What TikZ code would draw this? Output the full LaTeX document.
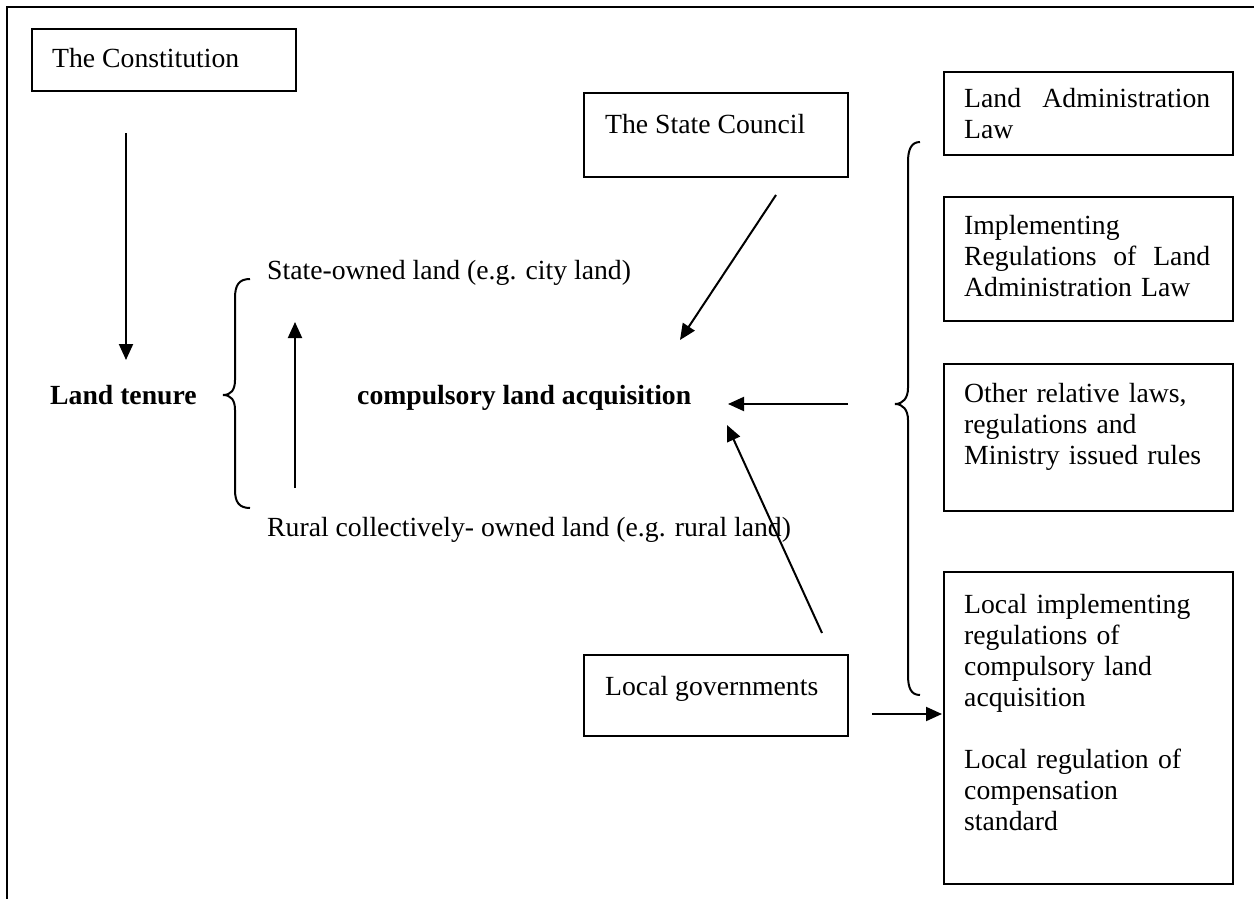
\documentclass[tikz,border=0pt]{standalone}
\usepackage{fontspec}
\setmainfont{Liberation Serif}
\usetikzlibrary{arrows.meta}
\tikzset{
  boxframe/.style={draw, line width=2pt, rectangle, inner sep=0pt},
  txt/.style={anchor=base west, inner sep=0pt, font=\fontsize{27.7}{31}\selectfont},
  boxtxt/.style={txt, text width=246pt, align=left},
  arr/.style={line width=2pt, -{Triangle[length=16pt,width=14pt]}},
  brace/.style={line width=2pt}
}
\begin{document}
\begin{tikzpicture}[x=1pt,y=-1pt]
\useasboundingbox (0,0) rectangle (1254,899);
% outer frame (open on right and bottom)
\draw[line width=2pt] (7,899) -- (7,7) -- (1254,7);

% boxes
\node[boxframe, minimum width=264pt, minimum height=62pt, anchor=north west] (constbox) at (31,28) {};
\node[txt] (const) at (52,68) {The Constitution};

\node[boxframe, minimum width=264pt, minimum height=84pt, anchor=north west] (scbox) at (583,92) {};
\node[txt] (sc) at (605,133) {The State Council};

\node[boxframe, minimum width=264pt, minimum height=81pt, anchor=north west] (lgbox) at (583,654) {};
\node[txt] (lg) at (605,695) {Local governments};

\node[boxframe, minimum width=289pt, minimum height=83pt, anchor=north west] (b1) at (943,71) {};
\node[boxtxt] (t1) at (964,107) {Land\hfill Administration\\Law};

\node[boxframe, minimum width=289pt, minimum height=124pt, anchor=north west] (b2) at (943,196) {};
\node[boxtxt] (t2) at (964,234) {Implementing\\Regulations\hfill of\hfill Land\\Administration Law};

\node[boxframe, minimum width=289pt, minimum height=147pt, anchor=north west] (b3) at (943,363) {};
\node[boxtxt] (t3) at (964,402) {Other relative laws,\\regulations and\\Ministry issued rules};

\node[boxframe, minimum width=289pt, minimum height=312pt, anchor=north west] (b4) at (943,571) {};
\node[boxtxt] (t4) at (964,613) {Local implementing\\regulations of\\compulsory land\\acquisition\\[31pt]Local regulation of\\compensation\\standard};

% free texts
\node[txt, font=\fontsize{27.7}{31}\selectfont\bfseries] (tenure) at (50,404) {Land tenure};
\node[txt, font=\fontsize{27.7}{31}\selectfont\bfseries] (cla) at (357,404) {compulsory land acquisition};
\node[txt] (state) at (267,279) {State-owned land (e.g. city land)};
\node[txt] (rural) at (267,536) {Rural collectively- owned land (e.g. rural land)};

% arrow endpoints
\coordinate (c1s) at (126,133); \coordinate (c1e) at (126,360);
\coordinate (upS) at (295,488); \coordinate (upE) at (295,322);
\coordinate (scS) at (776,195); \coordinate (scE) at (680,340);
\coordinate (hS) at (848,404); \coordinate (hE) at (728,404);
\coordinate (lgS) at (822,633); \coordinate (lgE) at (727,425);
\coordinate (l4S) at (872,714); \coordinate (l4E) at (942,714);

\draw[arr] (c1s) -- (c1e);
\draw[arr] (upS) -- (upE);
\draw[arr] (scS) -- (scE);
\draw[arr] (hS) -- (hE);
\draw[arr] (lgS) -- (lgE);
\draw[arr] (l4S) -- (l4E);

% left brace
\draw[brace] (250,279) .. controls (239,279) and (235,285) .. (235,298)
  -- (235,380) .. controls (235,390) and (231,395) .. (223,395)
  .. controls (231,395) and (235,400) .. (235,410)
  -- (235,490) .. controls (235,502) and (239,508) .. (250,508);
% right brace
\draw[brace] (920,142) .. controls (911,142) and (908,150) .. (908,162)
  -- (908,388) .. controls (908,398) and (903,404) .. (895,404)
  .. controls (903,404) and (908,410) .. (908,420)
  -- (908,675) .. controls (908,688) and (911,695) .. (920,695);
\end{tikzpicture}
\end{document}
